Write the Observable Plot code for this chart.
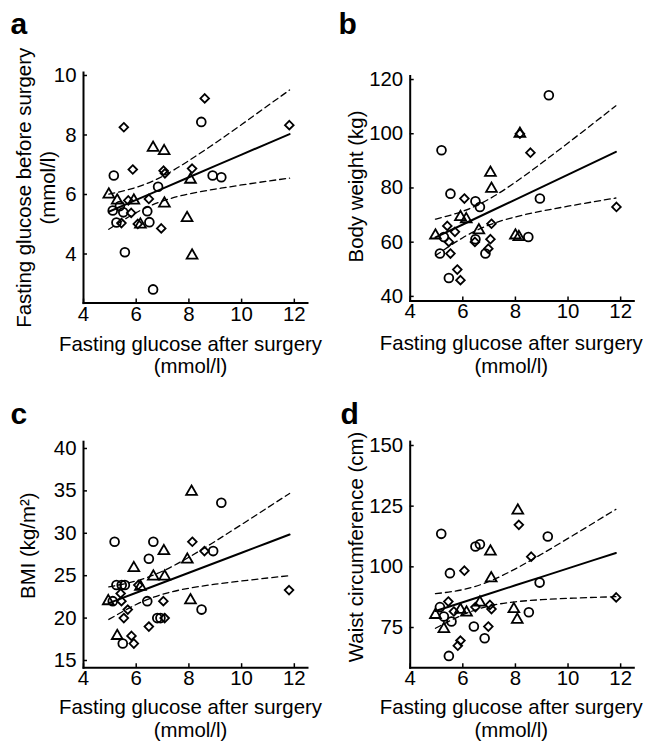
<!DOCTYPE html>
<html>
<head>
<meta charset="utf-8">
<script src="https://cdn.jsdelivr.net/npm/d3@7"></script>
<script src="https://cdn.jsdelivr.net/npm/@observablehq/plot@0.6"></script>
<style>
  html, body { margin: 0; padding: 0; background: #fff; }
  #fig { position: relative; width: 646px; height: 741px; background: #fff; }
  #fig svg { position: absolute; }
</style>
</head>
<body>
<div id="fig"></div>
<script>
const FONT = "'Liberation Sans', Arial, Helvetica, sans-serif";

// ---- tick labels ----
const xTicks = [4, 6, 8, 10, 12];
const aYTicks = [4, 6, 8, 10];
const bYTicks = [40, 60, 80, 100, 120];
const cYTicks = [15, 20, 25, 30, 35, 40];
const dYTicks = [75, 100, 125, 150];

// ---- texts ----
const xLabel = "Fasting glucose after surgery\n(mmol/l)";
const aYLabel = "Fasting glucose before surgery\n(mmol/l)";
const bYLabel = "Body weight (kg)";
const cYLabel = "BMI (kg/m²)";
const dYLabel = "Waist circumference (cm)";

// ---- scatter data: [fasting glucose after surgery, value] ----
const aCircles = [[5.11,5.46],[5.15,6.64],[5.25,5.06],[5.38,5.61],[5.51,5.40],[5.57,4.06],[6.42,5.44],[6.50,5.07],[6.64,2.81],[6.83,6.26],[8.47,8.44],[8.90,6.64],[9.23,6.58]];
const aTriangles = [[4.96,6.00],[5.28,5.80],[5.91,5.80],[6.16,4.99],[6.64,7.57],[7.06,7.46],[7.07,5.70],[7.93,5.21],[8.06,6.50],[8.12,3.95]];
const aDiamonds = [[5.44,5.04],[5.53,8.26],[5.70,5.80],[5.81,5.38],[5.87,6.84],[6.06,5.01],[6.48,5.85],[6.95,4.86],[7.04,6.80],[7.09,6.71],[8.12,6.87],[8.60,9.23],[11.81,8.33]];

const bCircles = [[5.28,61.9],[5.13,55.8],[5.47,46.8],[5.53,77.9],[6.48,75.1],[6.65,73.0],[6.48,61.1],[6.86,55.8],[5.19,93.9],[8.93,76.1],[8.49,61.9],[9.27,114.2]];
const bTriangles = [[4.96,62.5],[5.91,69.3],[6.13,68.5],[6.61,64.4],[7.05,85.6],[7.09,79.7],[8.17,100.0],[8.00,62.5],[8.13,61.9]];
const bDiamonds = [[5.47,60.1],[5.53,55.8],[5.41,66.0],[5.70,63.8],[5.79,49.9],[5.91,46.0],[6.06,76.1],[6.46,60.1],[6.97,57.6],[7.05,61.1],[7.09,66.8],[8.17,100.0],[8.57,93.0],[11.84,73.0]];

const cCircles = [[9.23,33.6],[5.18,29.0],[6.65,29.0],[8.92,27.9],[6.48,27.0],[5.25,23.9],[5.45,23.9],[5.57,23.9],[5.11,22.0],[6.42,22.0],[8.48,21.0],[6.80,20.0],[6.92,20.0],[5.49,17.0]];
const cTriangles = [[8.10,34.9],[7.05,27.9],[7.94,26.9],[5.91,25.9],[6.65,24.9],[7.08,24.9],[6.16,23.7],[4.94,22.0],[8.06,22.1],[5.28,17.9]];
const cDiamonds = [[8.13,29.0],[8.59,27.9],[6.08,23.9],[5.41,22.9],[5.44,22.0],[7.03,22.0],[5.68,21.0],[5.53,20.0],[7.08,20.0],[6.48,19.0],[5.82,17.9],[5.91,17.0],[11.80,23.3]];

const dCircles = [[5.18,113.6],[6.48,108.4],[6.65,109.3],[9.23,112.5],[5.51,97.4],[8.92,93.5],[5.13,83.4],[5.28,79.5],[5.57,77.5],[6.42,75.4],[6.83,70.6],[5.47,63.3],[8.51,81.3]];
const dTriangles = [[8.09,123.2],[7.05,106.3],[7.08,95.3],[4.96,80.2],[5.28,74.4],[5.91,82.3],[6.14,81.2],[6.65,85.3],[7.94,82.6],[8.07,78.2]];
const dDiamonds = [[8.13,117.3],[8.60,104.2],[6.06,98.4],[11.83,87.4],[5.45,85.7],[5.66,81.6],[6.48,83.4],[7.03,84.3],[7.09,82.6],[6.97,75.4],[5.91,69.6],[5.81,67.5]];

// ---- regression line and 95% confidence limits, read at these x ----
const fitX = [4.96, 6, 7, 8, 9, 10, 11, 11.82];
const aFit = [5.42, 5.82, 6.20, 6.58, 6.96, 7.34, 7.72, 8.03];
const aUpper = [6.01, 6.24, 6.61, 7.14, 7.73, 8.35, 8.99, 9.51];
const aLower = [4.83, 5.39, 5.78, 6.02, 6.18, 6.32, 6.45, 6.55];
const bFit = [61.75, 66.53, 71.13, 75.73, 80.33, 84.93, 89.53, 93.3];
const bUpper = [68.48, 71.41, 75.91, 82.14, 89.20, 96.59, 104.10, 110.3];
const bLower = [55.02, 61.65, 66.35, 69.32, 71.46, 73.27, 74.96, 76.3];
const cFit = [21.76, 22.99, 24.17, 25.35, 26.53, 27.71, 28.89, 29.85];
const cUpper = [23.68, 24.38, 25.53, 27.18, 29.06, 31.04, 33.05, 34.70];
const cLower = [19.84, 21.60, 22.81, 23.52, 24.00, 24.38, 24.73, 25.00];
const dFit = [81.8, 85.42, 88.91, 92.39, 95.88, 99.36, 102.85, 105.7];
const dUpper = [88.93, 90.59, 93.97, 99.18, 105.28, 111.71, 118.28, 123.7];
const dLower = [74.67, 80.25, 83.85, 85.60, 86.48, 87.01, 87.42, 87.7];

function panel(cfg) {
  const rows = fitX.map((x, i) => ({x, fit: cfg.fit[i], up: cfg.upper[i], lo: cfg.lower[i]}));
  const dot = (data, symbol, r) => Plot.dot(data, {
    x: d => d[0], y: d => d[1], symbol, r, stroke: "black", strokeWidth: 1.8, fill: "none"
  });
  const svg = Plot.plot({
    width: 323,
    height: cfg.height,
    marginLeft: cfg.ml, marginRight: cfg.mr, marginTop: cfg.mt, marginBottom: cfg.mb,
    x: {domain: [4, 12.5]},
    y: {domain: cfg.yDomain},
    style: {fontFamily: FONT, fontSize: "20px", color: "#000", background: "transparent", overflow: "visible"},
    marks: [
      Plot.frame({anchor: "left", strokeWidth: 2}),
      Plot.frame({anchor: "bottom", strokeWidth: 2}),
      Plot.axisX({ticks: xTicks, tickSize: -4, tickPadding: 7, strokeWidth: 1.5, label: null, tickFormat: d => String(d), fontSize: 20.4}),
      Plot.axisY({ticks: cfg.yTicks, tickSize: -4, tickPadding: 11, strokeWidth: 1.5, label: null, tickFormat: d => String(d), fontSize: 20.4}),
      Plot.line(rows, {x: "x", y: "up", curve: "natural", stroke: "black", strokeWidth: 1.3, strokeDasharray: "6,4"}),
      Plot.line(rows, {x: "x", y: "lo", curve: "natural", stroke: "black", strokeWidth: 1.3, strokeDasharray: "6,4"}),
      Plot.line(rows, {x: "x", y: "fit", stroke: "black", strokeWidth: 2}),
      dot(cfg.circles, "circle", 4.4),
      dot(cfg.triangles, "triangle", 4),
      dot(cfg.diamonds, "diamond2", 3.9),
      Plot.text([xLabel], {frameAnchor: "bottom", text: d => d, textAnchor: "middle", lineAnchor: "top",
        lineHeight: 1.12, dx: cfg.xlDx, dy: cfg.xlDy, fontSize: 20.4}),
      Plot.text([cfg.yLabel], {frameAnchor: "left", text: d => d, textAnchor: "middle", lineAnchor: "top",
        rotate: -90, lineHeight: 1.2, dx: cfg.ylDx, dy: cfg.ylDy, fontSize: 20.4}),
      Plot.text([cfg.letter], {frameAnchor: "top-left", text: d => d, textAnchor: "start", lineAnchor: "bottom",
        dx: cfg.letDx, dy: cfg.letDy, fontSize: 30, fontWeight: "bold"})
    ]
  });
  svg.style.left = cfg.left + "px";
  svg.style.top = cfg.top + "px";
  return svg;
}

const fig = document.getElementById("fig");
fig.appendChild(panel({
  letter: "a", left: 0, top: 0, height: 370, ml: 83, mr: 16, mt: 72, mb: 67.4,
  yDomain: [2.35, 10.1], yTicks: aYTicks, yLabel: aYLabel,
  circles: aCircles, triangles: aTriangles, diamonds: aDiamonds,
  fit: aFit, upper: aUpper, lower: aLower,
  xlDx: -5, xlDy: 31.2, ylDx: -70.3, ylDy: 0, letDx: -73, letDy: -39
}));
fig.appendChild(panel({
  letter: "b", left: 323, top: 0, height: 370, ml: 86.7, mr: 12.7, mt: 75.5, mb: 69.5,
  yDomain: [38.3, 121.3], yTicks: bYTicks, yLabel: bYLabel,
  circles: bCircles, triangles: bTriangles, diamonds: bDiamonds,
  fit: bFit, upper: bUpper, lower: bLower,
  xlDx: -10.7, xlDy: 32.6, ylDx: -64.7, ylDy: -2, letDx: -71.7, letDy: -42.5
}));
fig.appendChild(panel({
  letter: "c", left: 0, top: 370, height: 371, ml: 83, mr: 16, mt: 71.2, mb: 73.8,
  yDomain: [14.15, 40.8], yTicks: cYTicks, yLabel: cYLabel,
  circles: cCircles, triangles: cTriangles, diamonds: cDiamonds,
  fit: cFit, upper: cUpper, lower: cLower,
  xlDx: -5, xlDy: 30.4, ylDx: -65.5, ylDy: -9, letDx: -73, letDy: -18.2
}));
fig.appendChild(panel({
  letter: "d", left: 323, top: 370, height: 371, ml: 86.7, mr: 12.7, mt: 71.1, mb: 73.7,
  yDomain: [58.4, 151.6], yTicks: dYTicks, yLabel: dYLabel,
  circles: dCircles, triangles: dTriangles, diamonds: dDiamonds,
  fit: dFit, upper: dUpper, lower: dLower,
  xlDx: -10.7, xlDy: 30.4, ylDx: -64.7, ylDy: -7.7, letDx: -69.7, letDy: -18.1
}));
</script>
</body>
</html>
